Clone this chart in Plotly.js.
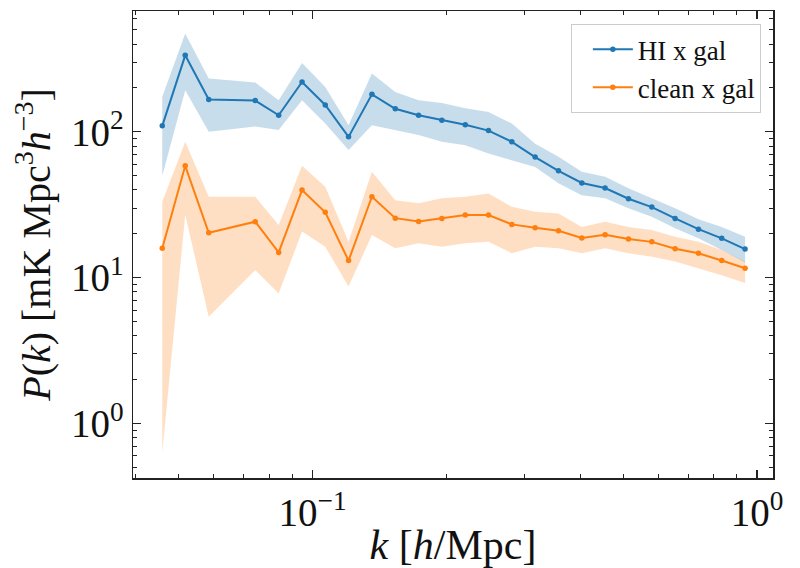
<!DOCTYPE html>
<html>
<head>
<meta charset="utf-8">
<script src="https://cdn.plot.ly/plotly-3.0.1.min.js"></script>
<style>
  html, body { margin: 0; padding: 0; background: #fff; }
  #chart { width: 800px; height: 568px; }
</style>
</head>
<body>
<div id="chart"></div>
<script>
// Wavenumber bins k [h/Mpc]
const k = [0.0459, 0.0517, 0.0584, 0.0743, 0.0839, 0.0947, 0.1068, 0.1205, 0.1360,
           0.1535, 0.1732, 0.1954, 0.2206, 0.2488, 0.2808, 0.3168, 0.3575, 0.4035,
           0.4552, 0.5138, 0.5798, 0.6543, 0.7384, 0.8330, 0.9401];

// HI x galaxy cross power and its 1-sigma band
const hiGal   = [110, 335, 167, 164, 130, 220, 153, 92.4, 181, 144, 130, 120, 112,
                 102, 85.5, 67.2, 54.1, 44.6, 41.2, 34.8, 30.5, 25.5, 21.5, 18.6, 15.7];
const hiGalLo = [50, 193, 100, 109, 103, 165, 114, 75, 111, 103, 95, 85.5, 81,
                 71, 64, 57.5, 44.4, 36.8, 35, 29.9, 26.2, 21.8, 18.6, 15.5, 12.7];
const hiGalHi = [174, 472, 232, 218, 165, 297, 203, 111, 251, 188, 165, 158, 145,
                 137, 114, 83, 67.5, 53.2, 49.2, 41, 35, 29.9, 25.2, 22.3, 19.1];

// Cleaned map x galaxy cross power and its 1-sigma band
const cleanGal   = [15.9, 58.5, 20.3, 24.2, 14.9, 39.9, 28.1, 13.1, 35.9, 25.6, 24.3, 25.5, 26.9,
                    26.9, 23.2, 22.0, 21.0, 18.7, 19.7, 18.4, 17.6, 15.8, 14.7, 13.1, 11.6];
const cleanGalLo = [0.63, 27, 5.4, 11.3, 7.8, 20.7, 16.3, 8.7, 19.6, 15.9, 17.2, 16.3, 17.2,
                    17.6, 14.7, 16.3, 15.9, 14.7, 15.9, 14.7, 13.9, 12.9, 11.6, 10.4, 9.2];
const cleanGalHi = [33.2, 85.5, 35.9, 35.9, 23, 58.5, 42, 17.6, 53.2, 34, 32.4, 35, 35.9,
                    37.8, 30.6, 28.3, 27.6, 22.3, 24.2, 22.3, 21.2, 19.1, 17.6, 15.5, 12.9];

// Axis tick labels
const xTickVals = [0.1, 1];
const xTickText = ['10<sup>−1</sup>', '10<sup>0</sup>'];
const yTickVals = [1, 10, 100];
const yTickText = ['10<sup>0</sup>', '10<sup>1</sup>', '10<sup>2</sup>'];

const BLUE = '#1f77b4';
const ORANGE = '#ff7f0e';

// minor tick positions: 2..9 times each decade
function minorTicks(decades) {
  const out = [];
  decades.forEach(d => { for (let m = 2; m <= 9; m++) out.push(m * d); });
  return out;
}

function band(lo, hi, color) {
  return {
    x: k.concat(k.slice().reverse()),
    y: hi.concat(lo.slice().reverse()),
    mode: 'lines', fill: 'toself', fillcolor: color,
    line: { width: 0, color: 'rgba(0,0,0,0)' },
    hoverinfo: 'skip', showlegend: false
  };
}

function curve(y, color, name) {
  return {
    x: k, y: y, name: name, mode: 'lines+markers',
    line: { color: color, width: 2 },
    marker: { color: color, size: 5.5 }
  };
}

const traces = [
  band(hiGalLo, hiGalHi, 'rgba(31,119,180,0.25)'),
  band(cleanGalLo, cleanGalHi, 'rgba(255,127,14,0.25)'),
  curve(hiGal, BLUE, 'HI x gal'),
  curve(cleanGal, ORANGE, 'clean x gal')
];

const SERIF = 'Liberation Serif, Times New Roman, serif';
const axisCommon = {
  type: 'log',
  showline: true, linecolor: '#222', linewidth: 1.5, mirror: 'allticks',
  ticks: 'inside', ticklen: 8, tickwidth: 1.2, tickcolor: '#222',
  showgrid: false, zeroline: false,
  tickfont: { family: SERIF, size: 39, color: '#111' }
};

const layout = {
  width: 800, height: 568,
  margin: { l: 133, r: 27, t: 11, b: 90 },
  paper_bgcolor: '#fff', plot_bgcolor: '#fff',
  showlegend: true,
  legend: {
    x: 0.981, y: 0.972, xanchor: 'right', yanchor: 'top',
    bgcolor: 'rgba(255,255,255,0.85)', bordercolor: '#cccccc', borderwidth: 1,
    font: { family: SERIF, size: 27, color: '#111' },
    tracegroupgap: 6, itemwidth: 40, indentation: 16
  },
  xaxis: Object.assign({}, axisCommon, {
    range: [-1.404, 0.036],
    tickmode: 'array', tickvals: xTickVals, ticktext: xTickText,
    minor: { tickmode: 'array', tickvals: minorTicks([0.01, 0.1]), ticks: 'inside',
             ticklen: 4, tickwidth: 1, tickcolor: '#222', showgrid: false },
    title: { text: '<i>k</i> [<i>h</i>/Mpc]', standoff: 6,
             font: { family: SERIF, size: 42, color: '#111' } }
  }),
  yaxis: Object.assign({}, axisCommon, {
    range: [-0.374, 2.829],
    tickmode: 'array', tickvals: yTickVals, ticktext: yTickText,
    minor: { tickmode: 'array', tickvals: minorTicks([0.1, 1, 10, 100]), ticks: 'inside',
             ticklen: 4, tickwidth: 1, tickcolor: '#222', showgrid: false },
    title: { text: '<i>P</i>(<i>k</i>) [mK Mpc<sup>3</sup><i>h</i><sup>−3</sup>]', standoff: 8,
             font: { family: SERIF, size: 40, color: '#111' } }
  })
};

Plotly.newPlot('chart', traces, layout, { displayModeBar: false, staticPlot: true });
</script>
</body>
</html>
